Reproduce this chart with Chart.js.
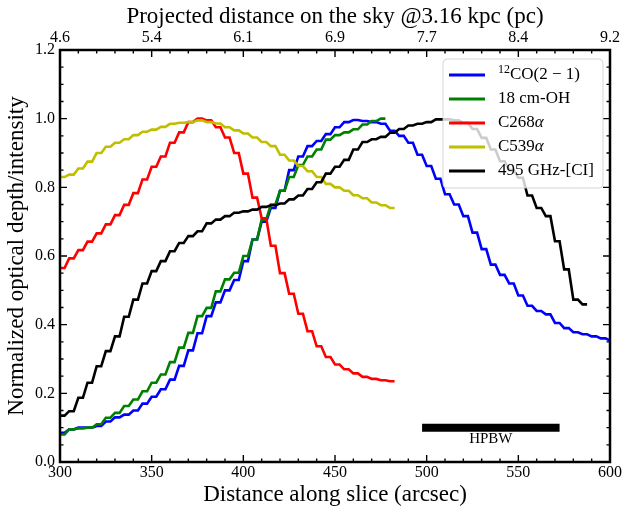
<!DOCTYPE html>
<html>
<head>
<meta charset="utf-8">
<script src="https://cdn.jsdelivr.net/npm/chart.js@4/dist/chart.umd.min.js"></script>
<style>
  html, body { margin: 0; padding: 0; background: #fff; }
</style>
</head>
<body>
<canvas id="slice" width="623" height="511"></canvas>
<script>
// Profiles along the slice, one value per 5" map pixel starting at 300".
const sliceStart = 300;
const pixelSize = 5;

const co21 = [
  0.085, 0.095, 0.10, 0.10, 0.105, 0.118, 0.13, 0.138, 0.15, 0.17,
  0.19, 0.212, 0.24, 0.28, 0.325, 0.375, 0.425, 0.465, 0.50, 0.53,
  0.585, 0.648, 0.70, 0.74, 0.79, 0.85, 0.89, 0.92, 0.935, 0.955,
  0.975, 0.99, 0.996, 0.993, 0.99, 0.985, 0.965, 0.95, 0.93, 0.895,
  0.862, 0.825, 0.78, 0.75, 0.716, 0.668, 0.62, 0.575, 0.545, 0.52,
  0.485, 0.455, 0.44, 0.43, 0.405, 0.39, 0.378, 0.372, 0.366, 0.36, 0.354
];
const oh18cm = [
  0.08, 0.095, 0.098, 0.10, 0.11, 0.129, 0.143, 0.163, 0.182, 0.206,
  0.231, 0.255, 0.291, 0.333, 0.376, 0.425, 0.449, 0.497, 0.532, 0.551,
  0.60, 0.648, 0.706, 0.75, 0.79, 0.83, 0.865, 0.89, 0.91, 0.939,
  0.952, 0.96, 0.969, 0.983, 0.993, 1.0
];
const c268a = [
  0.565, 0.593, 0.617, 0.642, 0.666, 0.692, 0.719, 0.749, 0.783, 0.823,
  0.86, 0.89, 0.93, 0.96, 0.99, 1.0, 0.995, 0.975, 0.945, 0.90,
  0.84, 0.77, 0.71, 0.63, 0.55, 0.49, 0.432, 0.381, 0.337, 0.306,
  0.284, 0.27, 0.258, 0.248, 0.242, 0.238, 0.235
];
const c539a = [
  0.83, 0.837, 0.855, 0.875, 0.90, 0.918, 0.93, 0.94, 0.952, 0.962,
  0.968, 0.976, 0.985, 0.988, 0.99, 0.995, 0.99, 0.986, 0.975, 0.966,
  0.957, 0.945, 0.932, 0.92, 0.895, 0.878, 0.862, 0.847, 0.83, 0.81,
  0.80, 0.79, 0.777, 0.768, 0.756, 0.748, 0.74
];
const ci495 = [
  0.135, 0.148, 0.187, 0.231, 0.279, 0.323, 0.366, 0.423, 0.473, 0.52,
  0.556, 0.585, 0.614, 0.638, 0.658, 0.672, 0.695, 0.706, 0.716, 0.726,
  0.73, 0.735, 0.743, 0.748, 0.753, 0.765, 0.776, 0.795, 0.815, 0.84,
  0.86, 0.88, 0.91, 0.932, 0.94, 0.947, 0.959, 0.97, 0.98, 0.985,
  0.99, 0.998, 0.998, 0.995, 0.988, 0.97, 0.944, 0.91, 0.876, 0.85,
  0.828, 0.776, 0.74, 0.716, 0.643, 0.561, 0.473, 0.459
];

// beam size bar
const hpbwX = [497.5, 572.5];
const hpbwY = 0.1;

const xTicks = [300, 350, 400, 450, 500, 550, 600];
const pcTickLabels = ['4.6', '5.4', '6.1', '6.9', '7.7', '8.4', '9.2'];

const SERIF = '"Liberation Serif", "DejaVu Serif", serif';
const NO_GRID = { display: false, drawTicks: false, tickLength: 0 };

// each map pixel is sampled twice along the slice, so the profile
// holds a value for half a pixel before moving on to the next one
function stairs(levels) {
  const pts = [];
  levels.forEach((v, i) => {
    const x = sliceStart + i * pixelSize;
    pts.push({ x: x, y: v }, { x: x + pixelSize / 2, y: v });
  });
  return pts;
}

const series = [
  { label: 'co',   data: co21,   color: '#0000ff' },
  { label: 'oh',   data: oh18cm, color: '#008000' },
  { label: 'c268', data: c268a,  color: '#ff0000' },
  { label: 'c539', data: c539a,  color: '#bfbf00' },
  { label: 'ci',   data: ci495,  color: '#000000' }
];

const datasets = series.map((s, i) => ({
  label: s.label,
  data: stairs(s.data),
  borderColor: s.color,
  borderWidth: 2.6,
  pointRadius: 0,
  tension: 0,
  fill: false,
  order: 10 - i
}));
datasets.push({
  label: 'hpbw',
  data: hpbwX.map(x => ({ x: x, y: hpbwY })),
  borderColor: '#000',
  borderWidth: 8,
  borderCapStyle: 'butt',
  pointRadius: 0,
  fill: false,
  order: 0
});

const legendItems = [
  { color: '#0000ff', parts: [['12', 'sup'], ['CO(2 \u2212 1)', '']] },
  { color: '#008000', parts: [['18 cm-OH', '']] },
  { color: '#ff0000', parts: [['C268', ''], ['\u03b1', 'it']] },
  { color: '#bfbf00', parts: [['C539', ''], ['\u03b1', 'it']] },
  { color: '#000000', parts: [['495 GHz-[CI]', '']] }
];

function fixAxis(size) {
  return function (s) {
    if (s.isHorizontal()) s.height = size; else s.width = size;
    s.paddingLeft = s.paddingRight = s.paddingTop = s.paddingBottom = 0;
  };
}

// spines, inward ticks, legend box and beam label
const frame = {
  id: 'frame',
  afterDatasetsDraw(chart) {
    const ctx = chart.ctx;
    const a = chart.chartArea;
    const xs = chart.scales.x, ys = chart.scales.y;
    ctx.save();
    ctx.strokeStyle = '#000';
    ctx.lineWidth = 1.4;
    ctx.beginPath();
    for (let v = 300; v <= 600; v += 10) {
      const px = xs.getPixelForValue(v);
      const len = v % 50 === 0 ? 7 : 3.5;
      ctx.moveTo(px, a.bottom); ctx.lineTo(px, a.bottom - len);
      ctx.moveTo(px, a.top); ctx.lineTo(px, a.top + len);
    }
    for (let k = 0; k <= 24; k++) {
      const py = ys.getPixelForValue(k * 0.05);
      const len = k % 4 === 0 ? 7 : 3.5;
      ctx.moveTo(a.left, py); ctx.lineTo(a.left + len, py);
      ctx.moveTo(a.right, py); ctx.lineTo(a.right - len, py);
    }
    ctx.stroke();
    ctx.lineWidth = 2.5;
    ctx.strokeRect(a.left, a.top, a.right - a.left, a.bottom - a.top);

    // HPBW label under the bar
    ctx.fillStyle = '#000';
    ctx.font = '15px ' + SERIF;
    ctx.textAlign = 'center';
    ctx.textBaseline = 'middle';
    ctx.fillText('HPBW', xs.getPixelForValue((hpbwX[0] + hpbwX[1]) / 2),
                 ys.getPixelForValue(hpbwY) + 11);

    // legend
    const bx = 443, by = 59, bw = 160, bh = 129;
    ctx.beginPath();
    ctx.roundRect(bx, by, bw, bh, 4);
    ctx.fillStyle = 'rgba(255,255,255,0.8)';
    ctx.fill();
    ctx.strokeStyle = 'rgba(204,204,204,0.8)';
    ctx.lineWidth = 1;
    ctx.stroke();
    ctx.textAlign = 'left';
    legendItems.forEach((it, i) => {
      const y = by + 16 + i * 24;
      ctx.strokeStyle = it.color;
      ctx.lineWidth = 2.8;
      ctx.beginPath();
      ctx.moveTo(bx + 6, y); ctx.lineTo(bx + 42, y);
      ctx.stroke();
      let x = bx + 55;
      ctx.fillStyle = '#000';
      it.parts.forEach(([t, kind]) => {
        if (kind === 'sup') {
          ctx.font = '12px ' + SERIF;
          ctx.fillText(t, x, y - 5);
        } else if (kind === 'it') {
          ctx.font = 'italic 17px ' + SERIF;
          ctx.fillText(t, x, y);
        } else {
          ctx.font = '17px ' + SERIF;
          ctx.fillText(t, x, y);
        }
        x += ctx.measureText(t).width;
      });
    });
    ctx.restore();
  }
};

new Chart(document.getElementById('slice'), {
  type: 'line',
  data: { datasets: datasets },
  options: {
    responsive: false,
    animation: false,
    events: [],
    layout: { padding: { right: 13 } },
    plugins: { legend: { display: false }, tooltip: { enabled: false } },
    scales: {
      x: {
        type: 'linear', position: 'bottom', min: 300, max: 600,
        afterBuildTicks: s => { s.ticks = xTicks.map(v => ({ value: v })); },
        afterFit: fixAxis(49),
        grid: NO_GRID, border: { display: false },
        ticks: { autoSkip: false, maxRotation: 0, padding: 1, color: '#000',
                 font: { family: SERIF, size: 16 } },
        title: { display: true, text: 'Distance along slice (arcsec)', color: '#000',
                 font: { family: SERIF, size: 23 }, padding: { bottom: 2 } }
      },
      x2: {
        type: 'linear', position: 'top', min: 300, max: 600,
        afterBuildTicks: s => { s.ticks = xTicks.map(v => ({ value: v })); },
        afterFit: fixAxis(50),
        grid: NO_GRID, border: { display: false },
        ticks: { autoSkip: false, maxRotation: 0, padding: 3, color: '#000',
                 font: { family: SERIF, size: 16 },
                 callback: v => pcTickLabels[xTicks.indexOf(v)] },
        title: { display: true, text: 'Projected distance on the sky @3.16 kpc (pc)', color: '#000',
                 font: { family: SERIF, size: 23 }, padding: { top: 3 } }
      },
      y: {
        type: 'linear', position: 'left', min: 0, max: 1.2,
        afterFit: fixAxis(60),
        grid: NO_GRID, border: { display: false },
        ticks: { stepSize: 0.2, padding: 5, color: '#000',
                 font: { family: SERIF, size: 16 },
                 callback: v => v.toFixed(1) },
        title: { display: true, text: 'Normalized optical depth/intensity', color: '#000',
                 font: { family: SERIF, size: 23 }, padding: { top: 3 } }
      }
    }
  },
  plugins: [frame]
});
</script>
</body>
</html>
